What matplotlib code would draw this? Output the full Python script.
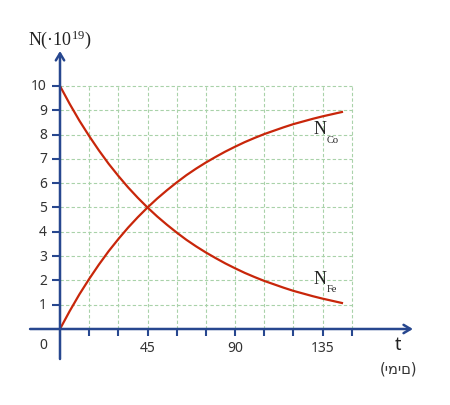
import matplotlib
matplotlib.use("Agg")
import matplotlib.pyplot as plt

plt.rcParams["mathtext.fontset"] = "custom"
plt.rcParams["mathtext.rm"] = "Liberation Serif"
plt.rcParams["mathtext.default"] = "regular"

# ---- data ----
t_days = [0, 5, 10, 15, 20, 25, 30, 35, 40, 45, 50, 55, 60, 65, 70, 75, 80,
          85, 90, 95, 100, 105, 110, 115, 120, 125, 130, 135, 140, 145]
n_fe = [10.0, 9.26, 8.57, 7.94, 7.35, 6.80, 6.30, 5.83, 5.40, 5.00, 4.63, 4.29,
        3.97, 3.67, 3.40, 3.15, 2.92, 2.70, 2.50, 2.31, 2.14, 1.98, 1.84, 1.70,
        1.57, 1.46, 1.35, 1.25, 1.16, 1.07]
n_co = [0.0, 0.74, 1.43, 2.06, 2.65, 3.20, 3.70, 4.17, 4.60, 5.00, 5.37, 5.71,
        6.03, 6.33, 6.60, 6.85, 7.08, 7.30, 7.50, 7.69, 7.86, 8.02, 8.16, 8.30,
        8.43, 8.54, 8.65, 8.75, 8.84, 8.93]
y_ticks = [1, 2, 3, 4, 5, 6, 7, 8, 9, 10]
x_ticks = [15, 30, 45, 60, 75, 90, 105, 120, 135, 150]
x_labels = {45: "45", 90: "90", 135: "135"}

AX = "#27478f"
RED = "#c8260a"
GRID = "#a9d2a9"
TXT = "#333333"

fig = plt.figure(figsize=(4.5, 4.06), dpi=100)
ax = fig.add_axes([0, 0, 1, 1])
ax.set_xlim(-30.857, 200.57)
ax.set_ylim(-3.1276, 13.580)
ax.axis("off")

# grid
for y in y_ticks:
    ax.plot([0, 150], [y, y], color=GRID, lw=0.8, ls=(0, (3, 2)), zorder=1)
for x in x_ticks:
    ax.plot([x, x], [0, 10], color=GRID, lw=0.8, ls=(0, (3, 2)), zorder=1)

# curves
ax.plot(t_days, n_fe, color=RED, lw=1.6, zorder=3)
ax.plot(t_days, n_co, color=RED, lw=1.6, zorder=3)

# axes with arrows
ax.annotate("", xy=(181.5, 0), xytext=(-15.4, 0),
            arrowprops=dict(arrowstyle="->,head_length=0.5,head_width=0.3",
                            color=AX, lw=1.8, shrinkA=0, shrinkB=0), zorder=4)
ax.annotate("", xy=(0, 11.44), xytext=(0, -1.235),
            arrowprops=dict(arrowstyle="->,head_length=0.5,head_width=0.3",
                            color=AX, lw=1.8, shrinkA=0, shrinkB=0), zorder=4)

# ticks
for y in y_ticks:
    ax.plot([-4.1, 0], [y, y], color=AX, lw=1.5, zorder=4, solid_capstyle="butt")
    ax.text(-6.7, y, str(y), ha="right", va="center", fontsize=10,
            family="Noto Sans", color=TXT)
for x in x_ticks:
    ax.plot([x, x], [0, -0.29], color=AX, lw=1.5, zorder=4, solid_capstyle="butt")
for x, lab in x_labels.items():
    ax.text(x, -0.78, lab, ha="center", va="center", fontsize=10,
            family="Noto Sans", color=TXT)
ax.text(-8.5, -0.65, "0", ha="center", va="center", fontsize=10,
        family="Noto Sans", color=TXT)

# axis labels
ax.text(174, -0.6, "t", ha="center", va="center", fontsize=13,
        family="Noto Sans", color="#222222")
ax.text(174, -1.6, "(ימים)", ha="center", va="center", fontsize=10.5,
        family="DejaVu Sans", color=TXT)
ax.text(0, 11.95, r"N(·10$^{19}$)", ha="center", va="center", fontsize=13,
        family="Liberation Serif", color="#222222")

# curve labels
ax.text(130.5, 8.05, "N", ha="left", va="baseline", fontsize=13,
        family="Liberation Serif", color="#222222")
ax.text(137, 7.7, "Co", ha="left", va="baseline", fontsize=7.5,
        family="Liberation Serif", color="#222222")
ax.text(130.5, 1.9, "N", ha="left", va="baseline", fontsize=13,
        family="Liberation Serif", color="#222222")
ax.text(137, 1.55, "Fe", ha="left", va="baseline", fontsize=7.5,
        family="Liberation Serif", color="#222222")

fig.savefig("out.png", dpi=100)
